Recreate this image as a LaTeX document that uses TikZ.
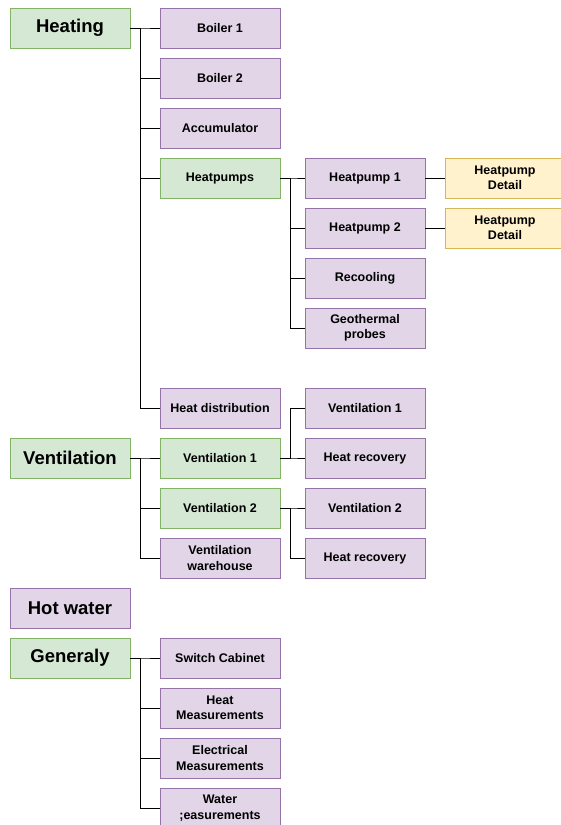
\documentclass[tikz,border=0pt]{standalone}
\usepackage{fontspec}
\setmainfont{Liberation Sans}

\definecolor{grpfill}{HTML}{D5E8D4}
\definecolor{grpline}{HTML}{82B366}
\definecolor{itemfill}{HTML}{E1D5E7}
\definecolor{itemline}{HTML}{9673A6}
\definecolor{detfill}{HTML}{FFF2CC}
\definecolor{detline}{HTML}{D6B656}

\tikzset{
  box/.style={draw, line width=0.8pt, minimum width=120pt, minimum height=40pt,
    inner sep=0pt, align=center, font=\bfseries\fontsize{12.5}{15.5}\selectfont},
  group/.style={box, fill=grpfill, draw=grpline},
  item/.style={box, fill=itemfill, draw=itemline},
  detail/.style={box, fill=detfill, draw=detline},
  head/.style={font=\bfseries\fontsize{18.5}{22}\selectfont},
  link/.style={draw=black, line width=0.8pt},
}

\begin{document}
\begin{tikzpicture}[x=1pt, y=-1pt]
    \useasboundingbox (0,0) rectangle (560,825);

    % Heating
    \node[group, head] (heating) at (70,28) {Heating};
    \node[item] (boiler1) at (220,28) {Boiler 1};
    \node[item] (boiler2) at (220,78) {Boiler 2};
    \node[item] (accu) at (220,128) {Accumulator};
    \node[group] (heatpumps) at (220,178) {Heatpumps};
    \node[item] (heatdist) at (220,408) {Heat distribution};

    % Heatpumps
    \node[item] (hp1) at (365,178) {Heatpump 1};
    \node[item] (hp2) at (365,228) {Heatpump 2};
    \node[item] (recool) at (365,278) {Recooling};
    \node[item] (geo) at (365,328) {Geothermal\\probes};
    \node[detail] (hp1detail) at (505,178) {Heatpump\\Detail};
    \node[detail] (hp2detail) at (505,228) {Heatpump\\Detail};

    % Ventilation
    \node[group, head] (vent) at (70,458) {Ventilation};
    \node[group] (vent1) at (220,458) {Ventilation 1};
    \node[group] (vent2) at (220,508) {Ventilation 2};
    \node[item] (ventwh) at (220,558) {Ventilation\\warehouse};
    \node[item] (vent1unit) at (365,408) {Ventilation 1};
    \node[item] (vent1rec) at (365,458) {Heat recovery};
    \node[item] (vent2unit) at (365,508) {Ventilation 2};
    \node[item] (vent2rec) at (365,558) {Heat recovery};

    % Hot water
    \node[item, head] (hotwater) at (70,608) {Hot water};

    % Generaly
    \node[group, head] (general) at (70,658) {Generaly};
    \node[item] (cabinet) at (220,658) {Switch Cabinet};
    \node[item] (heatmeas) at (220,708) {Heat\\Measurements};
    \node[item] (elecmeas) at (220,758) {Electrical\\Measurements};
    \node[item] (watermeas) at (220,808) {Water\\;easurements};

    % tree lines
    \draw[link] (heating.east) -- ++(10,0) |- (boiler1.west);
    \draw[link] (heating.east) -- ++(10,0) |- (boiler2.west);
    \draw[link] (heating.east) -- ++(10,0) |- (accu.west);
    \draw[link] (heating.east) -- ++(10,0) |- (heatpumps.west);
    \draw[link] (heating.east) -- ++(10,0) |- (heatdist.west);

    \draw[link] (heatpumps.east) -- ++(10,0) |- (hp1.west);
    \draw[link] (heatpumps.east) -- ++(10,0) |- (hp2.west);
    \draw[link] (heatpumps.east) -- ++(10,0) |- (recool.west);
    \draw[link] (heatpumps.east) -- ++(10,0) |- (geo.west);
    \draw[link] (hp1.east) -- (hp1detail.west);
    \draw[link] (hp2.east) -- (hp2detail.west);

    \draw[link] (vent.east) -- ++(10,0) |- (vent1.west);
    \draw[link] (vent.east) -- ++(10,0) |- (vent2.west);
    \draw[link] (vent.east) -- ++(10,0) |- (ventwh.west);
    \draw[link] (vent1.east) -- ++(10,0) |- (vent1unit.west);
    \draw[link] (vent1.east) -- ++(10,0) |- (vent1rec.west);
    \draw[link] (vent2.east) -- ++(10,0) |- (vent2unit.west);
    \draw[link] (vent2.east) -- ++(10,0) |- (vent2rec.west);

    \draw[link] (general.east) -- ++(10,0) |- (cabinet.west);
    \draw[link] (general.east) -- ++(10,0) |- (heatmeas.west);
    \draw[link] (general.east) -- ++(10,0) |- (elecmeas.west);
    \draw[link] (general.east) -- ++(10,0) |- (watermeas.west);
\end{tikzpicture}
\end{document}
